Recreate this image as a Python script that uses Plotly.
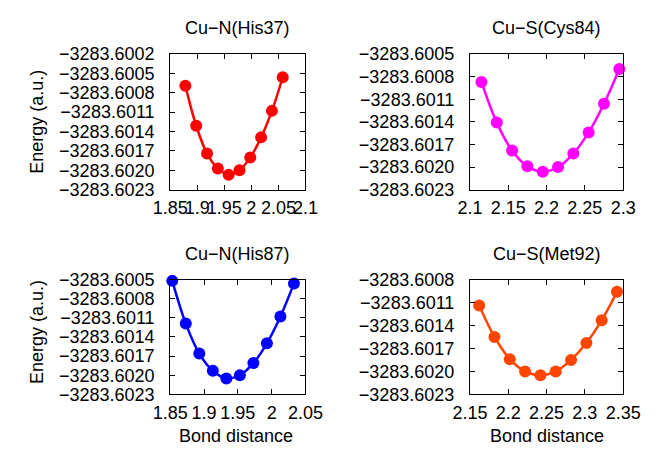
import plotly.graph_objects as go

# ---- data ----
titles = ["Cu\u2212N(His37)", "Cu\u2212S(Cys84)", "Cu\u2212N(His87)", "Cu\u2212S(Met92)"]
colors = ["#ff0000", "#ff00ff", "#0000ff", "#ff4500"]

x_his37 = [1.878, 1.898, 1.918, 1.938, 1.958, 1.978, 1.998, 2.018, 2.038, 2.058]
e_his37 = [-3283.60069, -3283.60131, -3283.60174, -3283.60197, -3283.60207,
           -3283.60200, -3283.60180, -3283.60149, -3283.60108, -3283.60056]

x_cys84 = [2.115, 2.135, 2.155, 2.175, 2.195, 2.215, 2.235, 2.255, 2.275, 2.295]
e_cys84 = [-3283.60087, -3283.60141, -3283.60178, -3283.60199, -3283.60206,
           -3283.60200, -3283.60182, -3283.60154, -3283.60116, -3283.60070]

x_his87 = [1.853, 1.873, 1.893, 1.913, 1.933, 1.953, 1.973, 1.993, 2.013, 2.033]
e_his87 = [-3283.60052, -3283.60119, -3283.60166, -3283.60193, -3283.60205,
           -3283.60200, -3283.60181, -3283.60150, -3283.60108, -3283.60056]

x_met92 = [2.162, 2.182, 2.202, 2.222, 2.242, 2.262, 2.282, 2.302, 2.322, 2.342]
e_met92 = [-3283.60114, -3283.60155, -3283.60184, -3283.60200, -3283.60205,
           -3283.60200, -3283.60185, -3283.60163, -3283.60133, -3283.60096]

xticks_his37 = [1.85, 1.9, 1.95, 2.0, 2.05, 2.1]
xticklabels_his37 = ["1.85", "1.9", "1.95", "2", "2.05", "2.1"]
xticks_cys84 = [2.1, 2.15, 2.2, 2.25, 2.3]
xticklabels_cys84 = ["2.1", "2.15", "2.2", "2.25", "2.3"]
xticks_his87 = [1.85, 1.9, 1.95, 2.0, 2.05]
xticklabels_his87 = ["1.85", "1.9", "1.95", "2", "2.05"]
xticks_met92 = [2.15, 2.2, 2.25, 2.3, 2.35]
xticklabels_met92 = ["2.15", "2.2", "2.25", "2.3", "2.35"]

yticks_his37 = [-3283.6002, -3283.6005, -3283.6008, -3283.6011, -3283.6014, -3283.6017, -3283.6020, -3283.6023]
yticks_cys84 = [-3283.6005, -3283.6008, -3283.6011, -3283.6014, -3283.6017, -3283.6020, -3283.6023]
yticks_his87 = [-3283.6005, -3283.6008, -3283.6011, -3283.6014, -3283.6017, -3283.6020, -3283.6023]
yticks_met92 = [-3283.6008, -3283.6011, -3283.6014, -3283.6017, -3283.6020, -3283.6023]

xs = [x_his37, x_cys84, x_his87, x_met92]
es = [e_his37, e_cys84, e_his87, e_met92]
xticks = [xticks_his37, xticks_cys84, xticks_his87, xticks_met92]
xticklabels = [xticklabels_his37, xticklabels_cys84, xticklabels_his87, xticklabels_met92]
yticks = [yticks_his37, yticks_cys84, yticks_his87, yticks_met92]

W, H = 661, 455
# panel boxes in pixels (left, right, top, bottom)
boxes = [(161, 304, 46, 188), (478, 640, 46, 188),
         (161, 304, 282, 402), (478, 640, 282, 402)]

FONT = "Liberation Sans, Arial, sans-serif"
FS = 18
fig = go.Figure()

for i in range(4):
    n = "" if i == 0 else str(i + 1)
    fig.add_trace(go.Scatter(
        x=xs[i], y=es[i], mode="lines+markers",
        line=dict(color=colors[i], width=2.5, shape="spline", smoothing=1.0),
        marker=dict(color=colors[i], size=12),
        cliponaxis=False, showlegend=False,
        xaxis="x" + n, yaxis="y" + n))
    l, r, t, b = boxes[i]
    common = dict(showline=True, linecolor="black", linewidth=1, mirror="allticks",
                  ticks="inside", ticklen=5, tickcolor="black", tickwidth=1,
                  showgrid=False, zeroline=False,
                  tickfont=dict(family=FONT, size=FS, color="black"))
    fig.update_layout(**{
        "xaxis" + n: dict(domain=[l / W, r / W], anchor="y" + n,
                          range=[xticks[i][0], xticks[i][-1]],
                          tickmode="array", tickvals=xticks[i], ticktext=xticklabels[i],
                          tickangle=0, ticklabelstandoff=2, **common),
        "yaxis" + n: dict(domain=[1 - b / H, 1 - t / H], anchor="x" + n,
                          range=[yticks[i][-1], yticks[i][0]],
                          tickmode="array", tickvals=yticks[i],
                          ticktext=[("\u2212%.4f" % abs(v)) for v in yticks[i]],
                          ticklabelstandoff=11, **common),
    })
    fig.add_annotation(text=titles[i], x=(l + r) / 2 / W, y=1 - (t - 27) / H,
                       xref="paper", yref="paper", showarrow=False,
                       xanchor="center", yanchor="middle",
                       font=dict(family=FONT, size=FS, color="black"))

for yc in [117, 337]:
    fig.add_annotation(text="Energy (a.u.)", x=20 / W, y=1 - yc / H, textangle=-90,
                       xref="paper", yref="paper", showarrow=False,
                       xanchor="center", yanchor="middle",
                       font=dict(family=FONT, size=FS, color="black"))
for xc in [231, 559]:
    fig.add_annotation(text="Bond distance", x=xc / W, y=1 - 446 / H,
                       xref="paper", yref="paper", showarrow=False,
                       xanchor="center", yanchor="middle",
                       font=dict(family=FONT, size=FS, color="black"))

fig.update_layout(width=W, height=H, margin=dict(l=0, r=0, t=0, b=0),
                  paper_bgcolor="white", plot_bgcolor="white")
fig.write_html("out.html")
